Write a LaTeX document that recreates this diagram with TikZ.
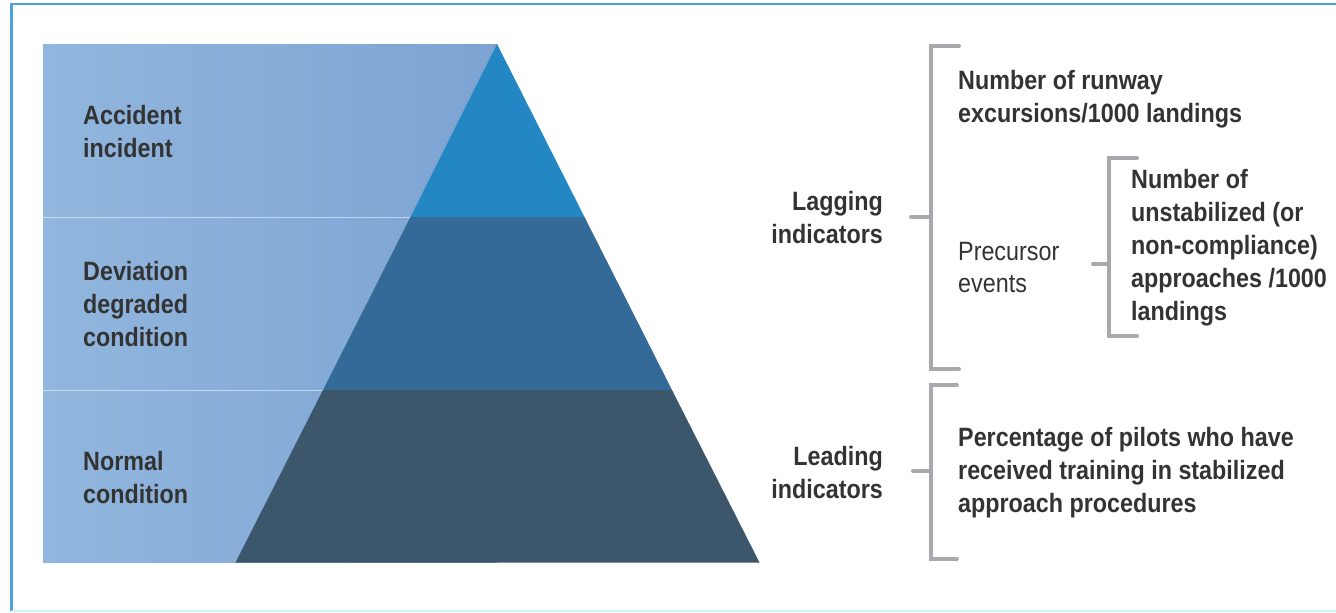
\documentclass[tikz,border=0pt]{standalone}
\usepackage{fontspec}
\setmainfont{Liberation Sans}[FakeStretch=0.88]
\definecolor{framebl}{HTML}{4AA3DF}
\definecolor{framelt}{HTML}{D3EDF9}
\definecolor{bandhi}{HTML}{91B7DE}
\definecolor{bandlo}{HTML}{7DA3D3}
\definecolor{tiptop}{HTML}{2387C4}
\definecolor{tipmid}{HTML}{336A97}
\definecolor{tipbot}{HTML}{3C566B}
\definecolor{txtgray}{HTML}{333333}
\definecolor{bracegray}{HTML}{A8A8AD}
\tikzset{
  lbl/.style={anchor=base west, inner sep=0pt, align=left, text=txtgray,
    font=\bfseries\fontsize{26.5}{33}\selectfont},
  ind/.style={lbl, anchor=base east, align=right},
  brace/.style={draw=bracegray, line width=4pt, line cap=round}
}
\begin{document}
\begin{tikzpicture}[x=1pt,y=-1pt]
\useasboundingbox (0,0) rectangle (1336,613);
% frame
\draw[framebl, line width=2.5pt] (11.5,611) -- (11.5,4) -- (1336,4);
\draw[framelt, line width=1.5pt] (11.5,611) -- (1336,611);
% bands behind the pyramid (base anchor = last line)
\foreach \t/\b in {44/217,217/390,390/562} {
  \shade[left color=bandhi, right color=bandlo] (43,\t) rectangle (497,\b);
}
\draw[white, opacity=.5] (43,217) -- (497,217) (43,390) -- (497,390);
% pyramid
\fill[tiptop] (497,44) -- (584.5,217) -- (410.5,217) -- cycle;
\fill[tipmid] (410.5,217) -- (584.5,217) -- (672,390) -- (323,390) -- cycle;
\fill[tipbot] (323,390) -- (672,390) -- (759.5,562.5) -- (235.5,562.5) -- cycle;
% levels
\foreach \n/\y/\t in {acc/157/{Accident\\incident},
    dev/346/{Deviation\\degraded\\condition},
    nor/503/{Normal\\condition}} {
  \node[lbl] (\n) at (83,\y) {\t};
}
\node[ind] (lagging) at (883,243) {Lagging\\indicators};
\node[ind] (leading) at (883,498) {Leading\\indicators};
% brackets
\draw[brace] (959,46) -- (931,46) -- (931,369) -- (959,369) (911,217) -- (931,217);
\draw[brace] (957,385) -- (931,385) -- (931,559) -- (957,559) (913,471) -- (931,471);
\draw[brace] (1137,158) -- (1109,158) -- (1109,336) -- (1137,336) (1093,264) -- (1109,264);
% indicator texts
\node[lbl] (runway) at (958,122) {Number of runway\\excursions/1000 landings};
\node[lbl, font=\fontsize{26.5}{32}\selectfont] (precursor) at (958,292) {Precursor\\events};
\node[lbl] (unstab) at (1131,320) {Number of\\unstabilized (or\\non-compliance)\\approaches /1000\\landings};
\node[lbl] (training) at (958,512) {Percentage of pilots who have\\received training in stabilized\\approach procedures};
\end{tikzpicture}
\end{document}
